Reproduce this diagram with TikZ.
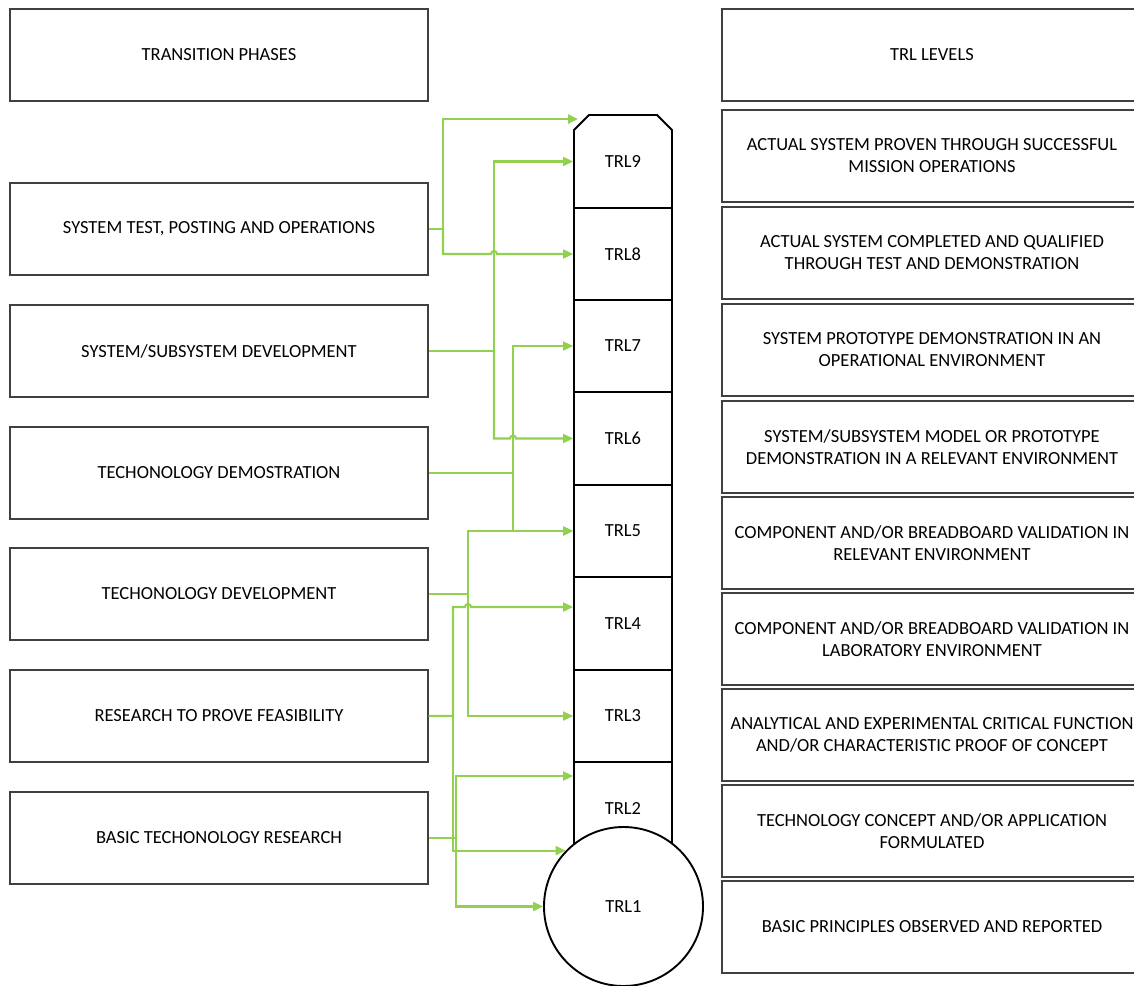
\documentclass[tikz,border=0pt]{standalone}
\usepackage{fontspec}
\setmainfont{Carlito}
\usetikzlibrary{arrows.meta,calc,shapes.misc}
\definecolor{lg}{RGB}{146,208,80}
\definecolor{bd}{RGB}{64,64,64}
\begin{document}
\begin{tikzpicture}[x=1pt,y=-1pt,
  every node/.style={font=\fontsize{18.5}{22}\selectfont},
  lbox/.style={draw=bd,line width=1.1pt,minimum width=418pt,minimum height=92pt,inner sep=0pt,align=center},
  rbox/.style={draw=bd,line width=1.3pt,minimum width=420pt,minimum height=92pt,inner sep=0pt,align=center},
  cell/.style={draw=black,line width=1.9pt,minimum width=98pt,inner sep=0pt},
  conn/.style={draw=lg,line width=2.1pt,-{Triangle[length=10pt,width=9pt]}}]
\useasboundingbox (0,0) rectangle (1134,985);
\clip (0,0) rectangle (1134,985);
% left boxes
\node[lbox] (tp)  at (219,55)  {TRANSITION PHASES};
\node[lbox] (st)  at (219,229) {SYSTEM TEST, POSTING AND OPERATIONS};
\node[lbox] (ss)  at (219,351) {SYSTEM/SUBSYSTEM DEVELOPMENT};
\node[lbox] (td)  at (219,473) {TECHONOLOGY DEMOSTRATION};
\node[lbox] (tdv) at (219,594) {TECHONOLOGY DEVELOPMENT};
\node[lbox] (rp)  at (219,716) {RESEARCH TO PROVE FEASIBILITY};
\node[lbox] (br)  at (219,838) {BASIC TECHONOLOGY RESEARCH};
% right boxes
\node[rbox] (r0) at (932,55)  {TRL LEVELS};
\node[rbox] (r9) at (932,156) {ACTUAL SYSTEM PROVEN THROUGH SUCCESSFUL\\MISSION OPERATIONS};
\node[rbox] (r8) at (932,253) {ACTUAL SYSTEM COMPLETED AND QUALIFIED\\THROUGH TEST AND DEMONSTRATION};
\node[rbox] (r7) at (932,350) {SYSTEM PROTOTYPE DEMONSTRATION IN AN\\OPERATIONAL ENVIRONMENT};
\node[rbox] (r6) at (932,447) {SYSTEM/SUBSYSTEM MODEL OR PROTOTYPE\\DEMONSTRATION IN A RELEVANT ENVIRONMENT};
\node[rbox] (r5) at (932,543) {COMPONENT AND/OR BREADBOARD VALIDATION IN\\RELEVANT ENVIRONMENT};
\node[rbox] (r4) at (932,639) {COMPONENT AND/OR BREADBOARD VALIDATION IN\\LABORATORY ENVIRONMENT};
\node[rbox] (r3) at (932,735) {ANALYTICAL AND EXPERIMENTAL CRITICAL FUNCTION\\AND/OR CHARACTERISTIC PROOF OF CONCEPT};
\node[rbox] (r2) at (932,831) {TECHNOLOGY CONCEPT AND/OR APPLICATION\\FORMULATED};
\node[rbox] (r1) at (932,927) {BASIC PRINCIPLES OBSERVED AND REPORTED};
% TRL column
\node[cell,chamfered rectangle,chamfered rectangle corners={north west,north east},
  chamfered rectangle xsep=9pt,chamfered rectangle ysep=9pt,minimum height=93pt] (t9) at (623,161.5) {TRL9};
\node[cell,minimum height=92pt] (t8) at (623,254)   {TRL8};
\node[cell,minimum height=92pt] (t7) at (623,346)   {TRL7};
\node[cell,minimum height=93pt] (t6) at (623,438.5) {TRL6};
\node[cell,minimum height=92pt] (t5) at (623,531)   {TRL5};
\node[cell,minimum height=93pt] (t4) at (623,623.5) {TRL4};
\node[cell,minimum height=92pt] (t3) at (623,716)   {TRL3};
\node[cell,minimum height=93pt] (t2) at (623,808.5) {TRL2};
\node[circle,draw=black,line width=1.9pt,fill=white,minimum size=159pt,inner sep=0pt] (c1) at (623.5,906.5) {TRL1};
% connectors
\coordinate (t9top) at ($(t9.north)+(-45,5)$);
\coordinate (t4w) at ($(t4.west)+(0,-16.5)$);
\coordinate (t2w) at ($(t2.west)+(0,-32.5)$);
% system test
\draw[conn] (st.east) -- (443,229) |- (t9top);
\draw[conn] (443,229) -- (443,254) -- (491,254) arc[start angle=180,end angle=360,radius=3] -- (t8.west);
% system/subsystem
\draw[conn] (ss.east) -- (494,351) |- (t9.west);
\draw[conn] (494,351) -- (494,438.5) -- (510,438.5) arc[start angle=180,end angle=360,radius=3] -- (t6.west);
% technology demonstration
\draw[conn] (td.east) -- (513,473) |- (t7.west);
\draw[conn] (513,473) |- (t5.west);
% technology development
\draw[conn] (tdv.east) -- (468,594) |- (t5.west);
\draw[conn] (468,594) |- (t3.west);
% research
\draw[conn] (rp.east) -- (453,716) -- (453,607) -- (465,607) arc[start angle=180,end angle=360,radius=3] -- (t4w);
\draw[conn] (453,716) |- (c1.136);
% basic research
\draw[conn] (br.east) -- (456,838) |- (t2w);
\draw[conn] (456,838) |- (c1.west);
\end{tikzpicture}
\end{document}
